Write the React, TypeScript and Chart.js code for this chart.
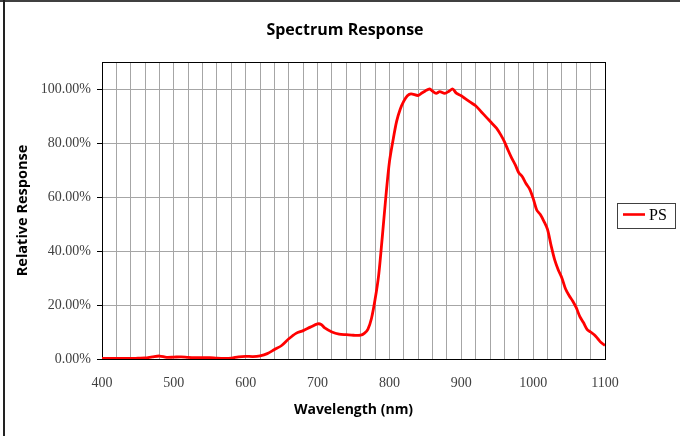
import React, { useEffect, useRef } from "react";
import { Chart, registerables } from "chart.js";

Chart.register(...registerables);

const TITLE = "Spectrum Response";
const X_TITLE = "Wavelength (nm)";
const Y_TITLE = "Relative Response";
const SERIES_LABEL = "PS";

const wavelengths = [
  400, 410, 420, 430, 440, 450, 460, 470, 480, 490, 500, 510, 520, 530, 540, 550, 560, 570, 580, 590,
  600, 610, 620, 630, 640, 650, 660, 670, 680, 690, 700, 705, 710, 720, 730, 740, 750, 760, 765, 770,
  775, 780, 785, 790, 795, 800, 805, 810, 815, 820, 825, 830, 840, 845, 850, 856, 860, 865, 870, 877,
  883, 888, 893, 900, 905, 912, 920, 928, 935, 942, 949, 955, 960, 965, 970, 975, 980, 985, 990, 995,
  1000, 1005, 1010, 1015, 1020, 1025, 1030, 1035, 1040, 1045, 1050, 1055, 1060, 1065, 1070, 1075, 1080, 1085, 1090, 1095,
  1100,
];

const response = [
  0.2, 0.2, 0.2, 0.2, 0.2, 0.3, 0.4, 0.8, 1.1, 0.6, 0.7, 0.8, 0.6, 0.5, 0.5, 0.5, 0.3, 0.2, 0.3, 0.8,
  1.0, 0.9, 1.2, 2.0, 3.5, 5.0, 7.5, 9.5, 10.5, 11.8, 13.0, 12.8, 11.5, 10.0, 9.2, 9.0, 8.8, 8.8, 9.5, 11.0,
  15.0, 22.0, 31.0, 45.0, 60.0, 73.0, 81.0, 88.0, 92.5, 95.5, 97.5, 98.2, 97.6, 98.5, 99.3, 100.0, 99.2, 98.4, 99.0, 98.4,
  99.2, 100.0, 98.5, 97.5, 96.5, 95.2, 93.8, 91.5, 89.5, 87.5, 85.5, 83.0, 80.5, 77.4, 74.5, 72.0, 69.0, 67.5, 65.0, 63.0,
  59.5, 55.2, 53.5, 51.0, 48.0, 42.0, 36.7, 33.0, 30.0, 26.0, 23.5, 21.5, 19.0, 15.7, 13.5, 11.0, 10.0, 9.0, 7.5, 6.0,
  5.0,
];

const X_MIN = 400;
const X_MAX = 1100;
const X_STEP = 20;
const X_LABEL_STEP = 100;
const Y_MIN = 0;
const Y_MAX = 110;
const Y_STEP = 20;

const serif = "'Liberation Serif', 'Times New Roman', serif";
const sans = "'Open Sans', 'Noto Sans', sans-serif";

const framePlugin = {
  id: "frame",
  beforeDatasetsDraw(chart: any) {
    const { ctx, chartArea } = chart;
    ctx.save();
    ctx.strokeStyle = "#000";
    ctx.lineWidth = 1;
    ctx.strokeRect(
      Math.round(chartArea.left) + 0.5,
      Math.round(chartArea.top) + 0.5,
      Math.round(chartArea.right - chartArea.left),
      Math.round(chartArea.bottom - chartArea.top)
    );
    ctx.restore();
  },
  afterDraw(chart: any) {
    const { ctx } = chart;
    ctx.save();
    // outer frame (top and left edges)
    ctx.fillStyle = "#404040";
    ctx.fillRect(0, 0, chart.width, 2);
    ctx.fillStyle = "#222";
    ctx.fillRect(3, 0, 2, chart.height);
    // legend box
    const ds = chart.data.datasets[0];
    const bx = 617.5, by = 203.5, bw = 58, bh = 25;
    ctx.fillStyle = "#fff";
    ctx.fillRect(bx, by, bw, bh);
    ctx.strokeStyle = "#404040";
    ctx.lineWidth = 1;
    ctx.strokeRect(bx, by, bw, bh);
    ctx.strokeStyle = ds.borderColor;
    ctx.lineWidth = 2.6;
    ctx.beginPath();
    ctx.moveTo(623, 214.5);
    ctx.lineTo(645, 214.5);
    ctx.stroke();
    ctx.fillStyle = "#000";
    ctx.font = `16px ${serif}`;
    ctx.textBaseline = "middle";
    ctx.textAlign = "left";
    ctx.fillText(ds.label, 649, 216);
    ctx.restore();
  },
};

export default function App() {
  const canvasRef = useRef<HTMLCanvasElement | null>(null);

  useEffect(() => {
    document.body.style.margin = "0";
    const canvas = canvasRef.current;
    if (!canvas) return;
    const points = wavelengths.map((x, i) => ({ x, y: response[i] }));
    const chart = new Chart(canvas, {
      type: "line",
      data: {
        datasets: [
          {
            label: SERIES_LABEL,
            data: points,
            borderColor: "#ff0000",
            backgroundColor: "#ff0000",
            borderWidth: 2.8,
            pointRadius: 0,
            tension: 0.3,
            fill: false,
          },
        ],
      },
      options: {
        animation: false,
        responsive: false,
        devicePixelRatio: 1,
        layout: { padding: { left: 10, right: 0, top: 0, bottom: 0 } },
        plugins: {
          legend: { display: false },
          tooltip: { enabled: false },
          title: {
            display: true,
            text: TITLE,
            color: "#000",
            font: { family: sans, size: 16, weight: "bold" },
            padding: { top: 21, bottom: 21.8 },
          },
        },
        scales: {
          x: {
            type: "linear",
            min: X_MIN,
            max: X_MAX,
            border: { display: true, color: "#000", width: 1 },
            grid: { color: "#a6a6a6", lineWidth: 1, drawTicks: false },
            ticks: {
              stepSize: X_STEP,
              autoSkip: false,
              maxRotation: 0,
              padding: 16,
              color: "#404040",
              font: { family: serif, size: 14 },
              callback: (v: any) => (Number(v) % X_LABEL_STEP === 0 ? String(v) : ""),
            },
            title: {
              display: true,
              text: X_TITLE,
              color: "#000",
              font: { family: sans, size: 14, weight: "bold" },
              padding: { top: 0, bottom: 18 },
            },
            afterFit: (s: any) => {
              s.height = 77;
            },
          },
          y: {
            type: "linear",
            min: Y_MIN,
            max: Y_MAX,
            border: { display: true, color: "#000", width: 1 },
            grid: { color: "#a6a6a6", lineWidth: 1, drawTicks: true, tickLength: 5, tickColor: "#000" },
            ticks: {
              stepSize: Y_STEP,
              includeBounds: false,
              padding: 6,
              color: "#404040",
              font: { family: serif, size: 14 },
              callback: (v: any) => Number(v).toFixed(2) + "%",
            },
            title: {
              display: true,
              text: Y_TITLE,
              color: "#000",
              font: { family: sans, size: 14.5, weight: "bold" },
              padding: { top: 4, bottom: 0 },
            },
            afterFit: (s: any) => {
              s.width = 92;
            },
          },
          y2: {
            type: "linear",
            position: "right",
            display: true,
            grid: { display: false, drawTicks: false },
            border: { display: false },
            ticks: { display: false },
            afterFit: (s: any) => {
              s.width = 75;
            },
          },
        },
      },
      plugins: [framePlugin],
    } as any);
    return () => chart.destroy();
  }, []);

  return (
    <div style={{ width: 680, height: 436, position: "relative", background: "#fff" }}>
      <canvas ref={canvasRef} width={680} height={436} style={{ display: "block" }} />
    </div>
  );
}
